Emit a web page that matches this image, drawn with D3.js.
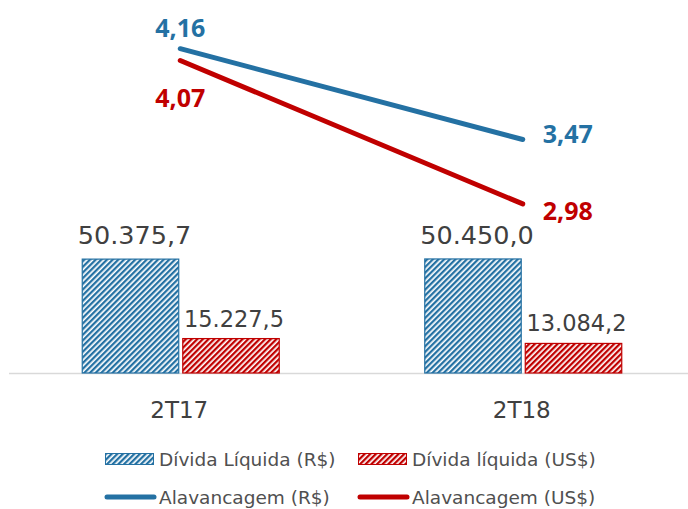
<!DOCTYPE html>
<html>
<head>
<meta charset="utf-8">
<script src="https://cdn.jsdelivr.net/npm/d3@7"></script>
<style>
  body { margin: 0; background: #fff; }
  text { font-family: "DejaVu Sans", sans-serif; }
  .lbl { font-family: "Open Sans", sans-serif; font-weight: bold; }
</style>
</head>
<body>
<svg></svg>
<script>
var width = 688;
var height = 509;

// data
var periods = ["2T17", "2T18"];
var dividaBRL = [50375.7, 50450.0];
var dividaUSD = [15227.5, 13084.2];
var alavBRL = [4.16, 3.47];
var alavUSD = [4.07, 2.98];
var barLabelsBRL = ["50.375,7", "50.450,0"];
var barLabelsUSD = ["15.227,5", "13.084,2"];
var lineLabelsBRL = ["4,16", "3,47"];
var lineLabelsUSD = ["4,07", "2,98"];

var blue = "#2471a3";
var red = "#c00000";
var textGray = "#404040";

var svg = d3.select("svg")
    .attr("width", width)
    .attr("height", height);

var defs = svg.append("defs");
function stripes(id, color) {
  var p = defs.append("pattern")
      .attr("id", id)
      .attr("patternUnits", "userSpaceOnUse")
      .attr("width", 4)
      .attr("height", 4)
      .attr("patternTransform", "rotate(45)");
  p.append("rect").attr("width", 4).attr("height", 4).attr("fill", "#fff");
  p.append("rect").attr("width", 2.3).attr("height", 4).attr("fill", color);
}
stripes("stripeBlue", blue);
stripes("stripeRed", red);

var baseline = 373;

var x = d3.scaleBand()
    .domain(periods)
    .range([9, 694]);

var sub = d3.scaleBand()
    .domain(["brl", "usd"])
    .range([0, 197])
    .paddingInner(0.04);

var yBar = d3.scaleLinear()
    .domain([0, 165000])
    .range([baseline, 0]);

var yLine = d3.scaleLinear()
    .domain([0, 4.53])
    .range([596, 0]);

// axis line
svg.append("line")
    .attr("x1", 9).attr("x2", 688)
    .attr("y1", baseline + 0.5).attr("y2", baseline + 0.5)
    .attr("stroke", "#d9d9d9")
    .attr("stroke-width", 1.5);

function barLeft(d) { return x(d) + x.bandwidth() / 2 - 98; }

var groups = svg.append("g").selectAll("g")
    .data(periods)
  .enter().append("g")
    .attr("transform", function(d) { return "translate(" + barLeft(d) + ",0)"; });

groups.append("rect")
    .attr("x", sub("brl"))
    .attr("y", function(d, i) { return yBar(dividaBRL[i]); })
    .attr("width", sub.bandwidth())
    .attr("height", function(d, i) { return baseline - yBar(dividaBRL[i]); })
    .attr("fill", "url(#stripeBlue)")
    .attr("stroke", blue)
    .attr("stroke-width", 1.2);

groups.append("rect")
    .attr("x", sub("usd"))
    .attr("y", function(d, i) { return yBar(dividaUSD[i]); })
    .attr("width", sub.bandwidth())
    .attr("height", function(d, i) { return baseline - yBar(dividaUSD[i]); })
    .attr("fill", "url(#stripeRed)")
    .attr("stroke", red)
    .attr("stroke-width", 1.2);

groups.append("text")
    .attr("x", sub("brl") + sub.bandwidth() / 2 + 4)
    .attr("y", function(d, i) { return yBar(dividaBRL[i]) - 15; })
    .attr("text-anchor", "middle")
    .attr("font-size", 25.5)
    .attr("fill", textGray)
    .text(function(d, i) { return barLabelsBRL[i]; });

groups.append("text")
    .attr("x", sub("usd") + sub.bandwidth() / 2 + 3)
    .attr("y", function(d, i) { return yBar(dividaUSD[i]) - 12; })
    .attr("text-anchor", "middle")
    .attr("font-size", 22.5)
    .attr("fill", textGray)
    .text(function(d, i) { return barLabelsUSD[i]; });

// category labels
svg.append("g").selectAll("text")
    .data(periods)
  .enter().append("text")
    .attr("x", function(d) { return x(d) + x.bandwidth() / 2 - 1; })
    .attr("y", 418)
    .attr("text-anchor", "middle")
    .attr("font-size", 23)
    .attr("fill", textGray)
    .text(function(d) { return d; });

// lines
var cx = function(d) { return x(d) + x.bandwidth() / 2; };
var line = d3.line()
    .x(function(d) { return cx(d.p); })
    .y(function(d) { return yLine(d.v); });

function series(vals) {
  return periods.map(function(p, i) { return { p: p, v: vals[i] }; });
}

svg.append("path")
    .datum(series(alavBRL))
    .attr("d", line)
    .attr("fill", "none")
    .attr("stroke", blue)
    .attr("stroke-width", 5)
    .attr("stroke-linecap", "round");

svg.append("path")
    .datum(series(alavUSD))
    .attr("d", line)
    .attr("fill", "none")
    .attr("stroke", red)
    .attr("stroke-width", 5)
    .attr("stroke-linecap", "round");

// line labels
svg.append("g").selectAll("text")
    .data(periods)
  .enter().append("text")
    .attr("class", "lbl")
    .attr("font-size", 25)
    .attr("fill", blue)
    .attr("text-anchor", "middle")
    .attr("x", function(d, i) { return i === 0 ? cx(d) : cx(d) + 45; })
    .attr("y", function(d, i) { return i === 0 ? yLine(alavBRL[i]) - 12 : yLine(alavBRL[i]) + 4; })
    .text(function(d, i) { return lineLabelsBRL[i]; });

svg.append("g").selectAll("text")
    .data(periods)
  .enter().append("text")
    .attr("class", "lbl")
    .attr("font-size", 25)
    .attr("fill", red)
    .attr("text-anchor", "middle")
    .attr("x", function(d, i) { return i === 0 ? cx(d) : cx(d) + 45; })
    .attr("y", function(d, i) { return i === 0 ? yLine(alavUSD[i]) + 46 : yLine(alavUSD[i]) + 16; })
    .text(function(d, i) { return lineLabelsUSD[i]; });

// legend
var legendItems = [
  { label: "Dívida Líquida (R$)", type: "bar", fill: "url(#stripeBlue)", color: blue, x: 105, y: 459 },
  { label: "Dívida líquida (US$)", type: "bar", fill: "url(#stripeRed)", color: red, x: 358, y: 459 },
  { label: "Alavancagem (R$)", type: "line", color: blue, x: 105, y: 497 },
  { label: "Alavancagem (US$)", type: "line", color: red, x: 358, y: 497 }
];

var leg = svg.append("g").selectAll("g")
    .data(legendItems)
  .enter().append("g")
    .attr("transform", function(d) { return "translate(" + d.x + "," + d.y + ")"; });

leg.filter(function(d) { return d.type === "bar"; })
  .append("rect")
    .attr("x", 0.5).attr("y", -5.5)
    .attr("width", 48).attr("height", 11)
    .attr("fill", function(d) { return d.fill; })
    .attr("stroke", function(d) { return d.color; })
    .attr("stroke-width", 1);

leg.filter(function(d) { return d.type === "line"; })
  .append("line")
    .attr("x1", 2).attr("x2", 49)
    .attr("y1", 0).attr("y2", 0)
    .attr("stroke", function(d) { return d.color; })
    .attr("stroke-width", 5)
    .attr("stroke-linecap", "round");

leg.append("text")
    .attr("x", 54)
    .attr("y", 7)
    .attr("font-size", 18.5)
    .attr("fill", "#505050")
    .text(function(d) { return d.label; });
</script>
</body>
</html>
